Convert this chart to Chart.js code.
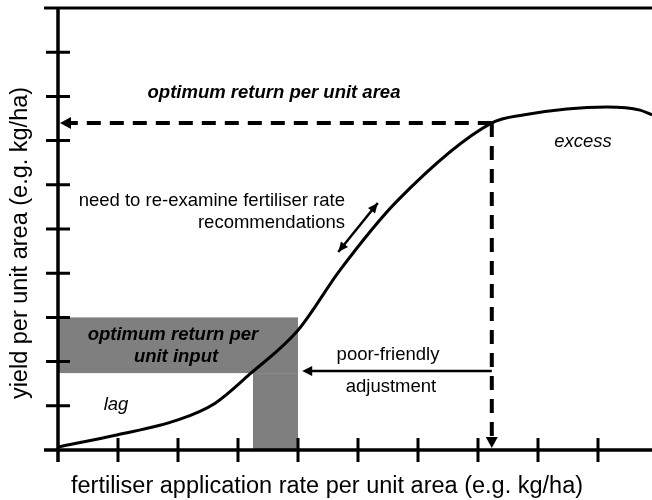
<!DOCTYPE html>
<html>
<head>
<meta charset="utf-8">
<script src="https://cdn.jsdelivr.net/npm/chart.js@4.4.1/dist/chart.umd.min.js"></script>
<style>
  body { margin: 0; background: #fff; }
  #wrap { width: 652px; height: 500px; }
</style>
</head>
<body>
<div id="wrap"><canvas id="chart"></canvas></div>
<script>
// yield response curve (x = fertiliser rate, y = yield)
const curveX = [0, 0.98, 2.0, 2.62, 3.2, 4.0, 4.7, 5.65, 7.23, 7.75, 9.15, 9.7, 9.9];
const curveY = [0.07, 0.34, 0.68, 1.06, 1.72, 2.71, 4.07, 5.63, 7.40, 7.58, 7.76, 7.69, 7.58];

// tick positions on both axes
const xTicks = [1, 2, 3, 4, 5, 6, 7, 8, 9];
const yTicks = [1, 2, 3, 4, 5, 6, 7, 8, 9];

// optimum point and the arrows coming out of it
const optimumX = 7.23;
const optimumY = 7.4;
const poorFriendlyX = [7.23, 4.07];
const poorFriendlyY = [1.79, 1.79];
const reexamineX = [4.67, 5.33];
const reexamineY = [4.48, 5.59];

// grey "optimum return per unit input" band (x0, x1, y0, y1)
const bandH = [0, 4.0, 1.74, 3.0];
const bandV = [3.25, 4.0, 0, 1.74];

const FONT = '"Liberation Sans", Arial, sans-serif';

function pts(xs, ys) {
  return xs.map((x, i) => ({ x: x, y: ys[i] }));
}

// Draw a filled arrow head at (x, y) pointing along angle
function arrowHead(ctx, x, y, angle, len, half) {
  ctx.save();
  ctx.translate(x, y);
  ctx.rotate(angle);
  ctx.beginPath();
  ctx.moveTo(0, 0);
  ctx.lineTo(-len, -half);
  ctx.lineTo(-len, half);
  ctx.closePath();
  ctx.fillStyle = '#000';
  ctx.fill();
  ctx.restore();
}

const decorPlugin = {
  id: 'decor',
  beforeDatasetsDraw(chart) {
    const { ctx, scales: { x, y } } = chart;
    ctx.save();
    ctx.fillStyle = '#7f7f80';
    [bandH, bandV].forEach((b) => {
      const l = x.getPixelForValue(b[0]);
      const r = x.getPixelForValue(b[1]);
      const t = y.getPixelForValue(b[3]);
      const btm = y.getPixelForValue(b[2]);
      ctx.fillRect(l, t, r - l, btm - t);
    });
    ctx.restore();
  },
  afterDatasetsDraw(chart) {
    const { ctx, chartArea, scales: { x, y } } = chart;
    const x0 = x.getPixelForValue(0);
    const y0 = y.getPixelForValue(0);
    const yTop = y.getPixelForValue(10);

    ctx.save();
    ctx.strokeStyle = '#000';
    ctx.lineCap = 'butt';

    // axes + top frame line
    ctx.lineWidth = 3.5;
    ctx.beginPath();
    ctx.moveTo(x0, yTop - 1);
    ctx.lineTo(x0, y0 + 12);
    ctx.moveTo(x0 - 14, y0);
    ctx.lineTo(chartArea.right, y0);
    ctx.stroke();
    ctx.lineWidth = 3;
    ctx.beginPath();
    ctx.moveTo(x0 - 14, yTop);
    ctx.lineTo(chartArea.right, yTop);
    ctx.stroke();

    // ticks crossing the axes
    ctx.lineWidth = 3;
    ctx.beginPath();
    yTicks.forEach((v) => {
      const py = y.getPixelForValue(v);
      ctx.moveTo(x0 - 12, py);
      ctx.lineTo(x0 + 12, py);
    });
    xTicks.forEach((v) => {
      const px = x.getPixelForValue(v);
      ctx.moveTo(px, y0 - 12);
      ctx.lineTo(px, y0 + 12);
    });
    ctx.stroke();

    // arrow heads
    arrowHead(ctx, x.getPixelForValue(0) + 2, y.getPixelForValue(optimumY), Math.PI, 11, 6);
    arrowHead(ctx, x.getPixelForValue(optimumX), y0 - 2, Math.PI / 2, 11, 6);
    arrowHead(ctx, x.getPixelForValue(poorFriendlyX[1]), y.getPixelForValue(poorFriendlyY[1]), Math.PI, 10, 5);
    const ax = reexamineX.map((v) => x.getPixelForValue(v));
    const ay = reexamineY.map((v) => y.getPixelForValue(v));
    const ang = Math.atan2(ay[1] - ay[0], ax[1] - ax[0]);
    arrowHead(ctx, ax[1], ay[1], ang, 10, 4.5);
    arrowHead(ctx, ax[0], ay[0], ang + Math.PI, 10, 4.5);

    // annotations
    ctx.fillStyle = '#000';
    ctx.textBaseline = 'middle';
    ctx.textAlign = 'center';
    ctx.font = 'italic bold 18.5px ' + FONT;
    ctx.fillText('optimum return per unit area', 274, 93);
    ctx.fillText('optimum return per', 173, 335);
    ctx.fillText('unit input', 176, 357);
    ctx.font = 'italic 18.5px ' + FONT;
    ctx.fillText('excess', 583, 142);
    ctx.fillText('lag', 116, 405);
    ctx.font = '18.5px ' + FONT;
    ctx.fillText('poor-friendly', 388, 355);
    ctx.fillText('adjustment', 391, 387);
    ctx.textAlign = 'right';
    ctx.fillText('need to re-examine fertiliser rate', 345, 201);
    ctx.fillText('recommendations', 345, 223);

    // axis titles
    ctx.textAlign = 'center';
    ctx.font = '23.5px ' + FONT;
    ctx.fillText('fertiliser application rate per unit area (e.g. kg/ha)', 327, 487);
    ctx.translate(21, 243);
    ctx.rotate(-Math.PI / 2);
    ctx.fillText('yield per unit area (e.g. kg/ha)', 0, 0);
    ctx.restore();
  }
};

const lineStyle = { showLine: true, pointRadius: 0, borderColor: '#000', clip: false };

new Chart(document.getElementById('chart'), {
  type: 'scatter',
  data: {
    datasets: [
      {
        ...lineStyle,
        label: 'yield',
        data: pts(curveX, curveY),
        borderWidth: 3,
        cubicInterpolationMode: 'monotone',
      },
      {
        ...lineStyle,
        label: 'optimum horizontal',
        data: [{ x: optimumX, y: optimumY }, { x: 0.15, y: optimumY }],
        borderWidth: 4,
        borderDash: [14, 9],
      },
      {
        ...lineStyle,
        label: 'optimum vertical',
        data: [{ x: optimumX, y: optimumY }, { x: optimumX, y: 0.2 }],
        borderWidth: 4,
        borderDash: [14, 9],
      },
      {
        ...lineStyle,
        label: 'poor-friendly adjustment',
        data: pts([poorFriendlyX[0], poorFriendlyX[1] + 0.12], poorFriendlyY),
        borderWidth: 2.5,
      },
      {
        ...lineStyle,
        label: 're-examine',
        data: pts(reexamineX, reexamineY),
        borderWidth: 2.5,
      },
    ],
  },
  options: {
    responsive: true,
    maintainAspectRatio: false,
    animation: false,
    layout: { padding: { left: 58, right: 0, top: 8, bottom: 50 } },
    plugins: { legend: { display: false }, tooltip: { enabled: false } },
    scales: {
      x: { type: 'linear', min: 0, max: 9.9, display: false },
      y: { type: 'linear', min: 0, max: 10, display: false },
    },
  },
  plugins: [decorPlugin],
});
</script>
</body>
</html>
